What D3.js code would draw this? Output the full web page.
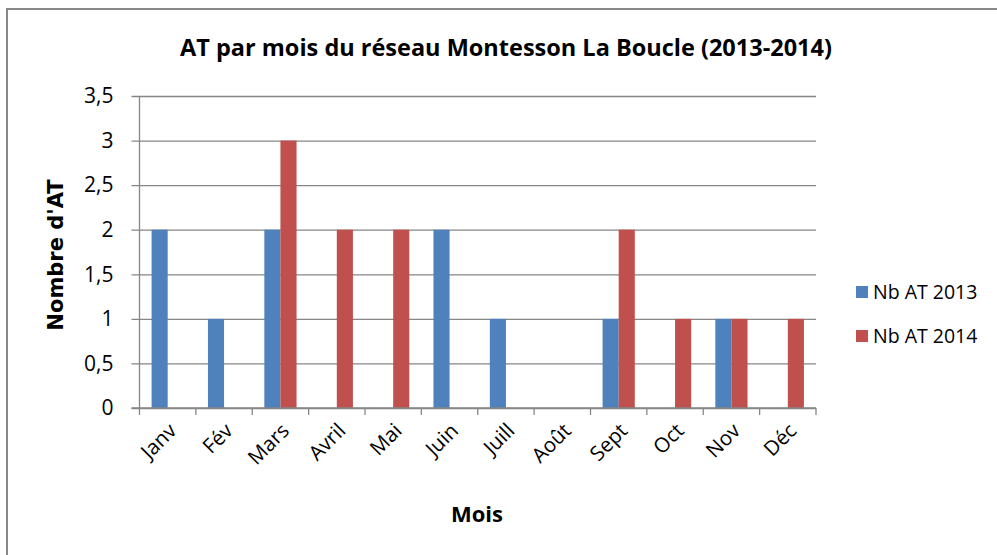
<!DOCTYPE html>
<html>
<head>
<meta charset="utf-8">
<script src="https://cdn.jsdelivr.net/npm/d3@7"></script>
<style>
  body { margin: 0; background: #fff; }
  svg { display: block; }
  text { font-family: "Open Sans", sans-serif; fill: #000; }
</style>
</head>
<body>
<div id="chart"></div>
<script>
const months = ['Janv', 'Fév', 'Mars', 'Avril', 'Mai', 'Juin', 'Juill', 'Août', 'Sept', 'Oct', 'Nov', 'Déc'];
const at2013 = [2, 1, 2, 0, 0, 2, 1, 0, 1, 0, 1, 0];
const at2014 = [0, 0, 3, 2, 2, 0, 0, 0, 2, 1, 1, 1];
const seriesNames = ['Nb AT 2013', 'Nb AT 2014'];
const yTicks = [0, 0.5, 1, 1.5, 2, 2.5, 3, 3.5];

const colors = ['#4F81BD', '#C0504D'];
const W = 997, H = 555;
const plot = { left: 139.5, right: 816, top: 96, bottom: 408 };

const svg = d3.select('#chart').append('svg').attr('width', W).attr('height', H);

// chart frame
svg.append('rect')
  .attr('x', 7).attr('y', 9)
  .attr('width', 1000).attr('height', 560)
  .attr('fill', '#fff')
  .attr('stroke', '#888').attr('stroke-width', 2);

const x = d3.scaleBand().domain(months).range([plot.left, plot.right]);
const xs = d3.scaleBand().domain(seriesNames).range([0, x.bandwidth()])
  .paddingInner(0).paddingOuter(0.75);
const y = d3.scaleLinear().domain([0, 3.5]).range([plot.bottom, plot.top]);

const fmt = v => String(v).replace('.', ',');

// gridlines + y labels
const yAxis = d3.axisLeft(y)
  .tickValues(yTicks)
  .tickSize(-(plot.right - plot.left) - 8)
  .tickPadding(10)
  .tickFormat(fmt);

const gY = svg.append('g')
  .attr('transform', `translate(${plot.left - 8},0)`)
  .call(yAxis);
gY.select('.domain').remove();
gY.selectAll('.tick line')
  .attr('stroke', '#868686').attr('stroke-width', 1.3);
gY.selectAll('.tick text')
  .attr('x', -18)
  .style('font-size', '21px')
  .style('font-family', '"Open Sans", sans-serif');

// vertical axis line
svg.append('line')
  .attr('x1', plot.left).attr('x2', plot.left)
  .attr('y1', plot.top).attr('y2', plot.bottom)
  .attr('stroke', '#868686').attr('stroke-width', 1.3);

// bars
const rows = months.map((m, i) => ({ month: m, values: [at2013[i], at2014[i]] }));

const groups = svg.append('g').selectAll('g')
  .data(rows)
  .join('g')
  .attr('transform', d => `translate(${x(d.month)},0)`);

groups.selectAll('rect')
  .data(d => d.values.map((v, k) => ({ key: seriesNames[k], value: v, k })))
  .join('rect')
  .filter(d => d.value > 0)
  .attr('x', d => xs(d.key))
  .attr('width', xs.bandwidth())
  .attr('y', d => y(d.value))
  .attr('height', d => y(0) - y(d.value))
  .attr('fill', d => colors[d.k]);

// x axis with ticks at category boundaries
const boundaries = months.map(m => x(m)).concat([plot.right]);
const gX = svg.append('g');
gX.append('line')
  .attr('x1', plot.left - 8).attr('x2', plot.right)
  .attr('y1', plot.bottom).attr('y2', plot.bottom)
  .attr('stroke', '#868686').attr('stroke-width', 1.3);
gX.selectAll('line.tk')
  .data(boundaries)
  .join('line')
  .attr('class', 'tk')
  .attr('x1', d => d).attr('x2', d => d)
  .attr('y1', plot.bottom).attr('y2', plot.bottom + 7)
  .attr('stroke', '#868686').attr('stroke-width', 1.3);

gX.selectAll('text.lbl')
  .data(months)
  .join('text')
  .attr('class', 'lbl')
  .attr('text-anchor', 'end')
  .attr('transform', d => `translate(${x(d) + x.bandwidth() / 2 + 10},${plot.bottom + 24}) rotate(-45)`)
  .style('font-size', '20.5px')
  .text(d => d);

// titles
svg.append('text')
  .attr('x', 506).attr('y', 56)
  .attr('text-anchor', 'middle')
  .style('font-size', '23.5px').style('font-weight', 'bold')
  .text('AT par mois du réseau Montesson La Boucle (2013-2014)');

svg.append('text')
  .attr('x', 477).attr('y', 522)
  .attr('text-anchor', 'middle')
  .style('font-size', '22px').style('font-weight', 'bold')
  .text('Mois');

svg.append('text')
  .attr('transform', 'translate(63,255) rotate(-90)')
  .attr('text-anchor', 'middle')
  .style('font-family', '"DejaVu Sans", sans-serif')
  .style('font-size', '21px').style('font-weight', 'bold')
  .text("Nombre d'AT");

// legend
const legend = svg.append('g').selectAll('g')
  .data(seriesNames)
  .join('g')
  .attr('transform', (d, i) => `translate(856,${286 + i * 44})`);
legend.append('rect')
  .attr('width', 12).attr('height', 12)
  .attr('fill', (d, i) => colors[i]);
legend.append('text')
  .attr('x', 17).attr('y', 12.5)
  .style('font-size', '19.5px')
  .text(d => d);
</script>
</body>
</html>
